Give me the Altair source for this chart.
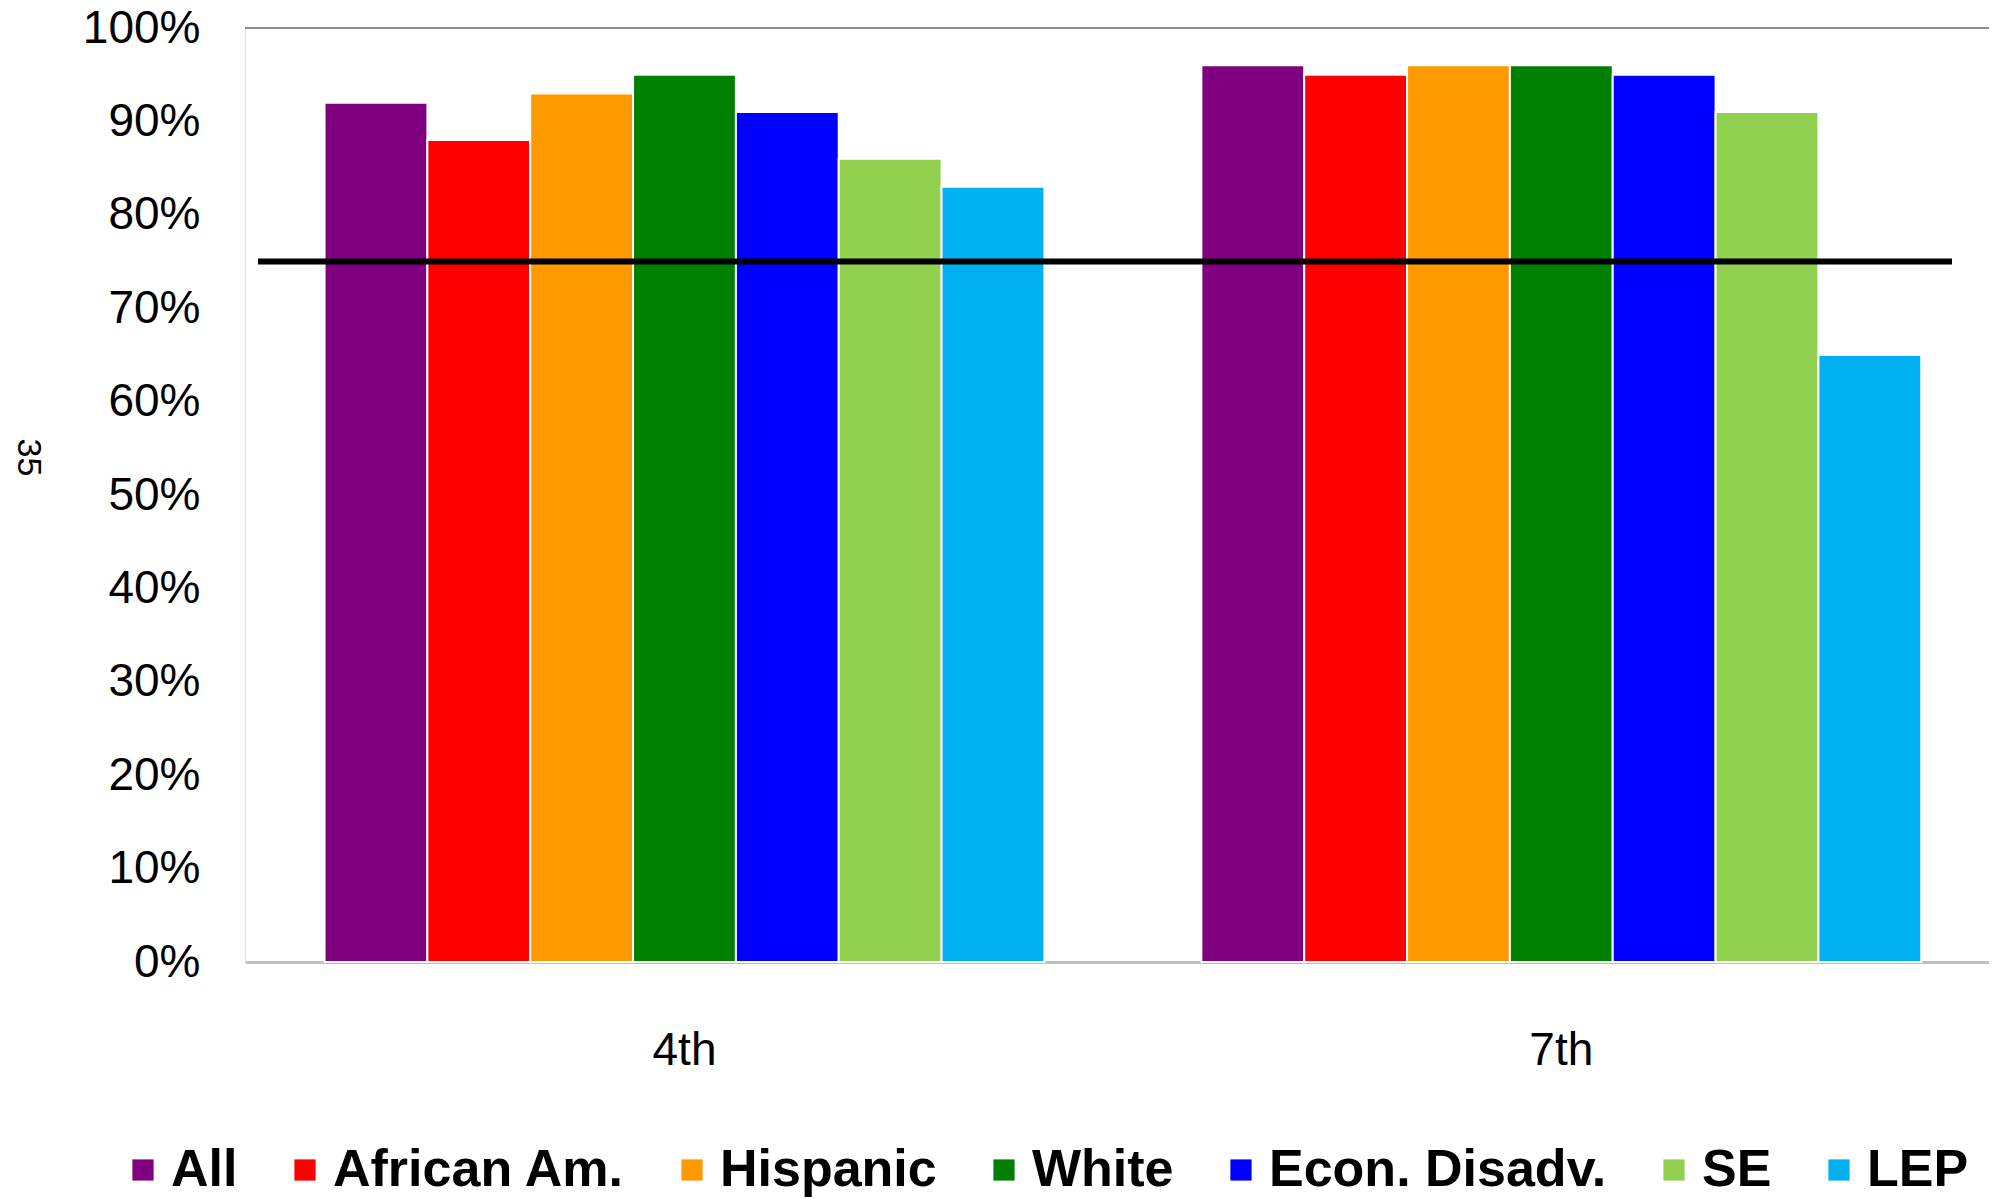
import altair as alt
import pandas as pd

grades = ["4th", "7th"]
groups = ["All", "African Am.", "Hispanic", "White", "Econ. Disadv.", "SE", "LEP"]
pct_4th = [92, 88, 93, 95, 91, 86, 83]
pct_7th = [96, 95, 96, 96, 95, 91, 65]
target_pct = 75
colors = ["#800080", "#FF0000", "#FF9900", "#008000", "#0000FF", "#92D050", "#00B0F0"]
y_ticks = [0, 0.1, 0.2, 0.3, 0.4, 0.5, 0.6, 0.7, 0.8, 0.9, 1.0]

rows = []
for g, vals in zip(grades, [pct_4th, pct_7th]):
    for grp, v in zip(groups, vals):
        rows.append({"grade": g, "group": grp, "value": v / 100})
df = pd.DataFrame(rows)

W, H = 1744, 934
SANS = "Liberation Sans, Arial, sans-serif"

bars = alt.Chart(df).mark_bar(stroke="white", strokeWidth=2).encode(
    x=alt.X(
        "grade:N", sort=grades,
        scale=alt.Scale(paddingInner=0.179, paddingOuter=0.084, align=0.54),
        axis=alt.Axis(title=None, labelAngle=0, ticks=False, domain=True,
                      domainColor="#bfbfbf", domainWidth=3,
                      labelFont=SANS, labelFontSize=46, labelColor="black",
                      labelPadding=66),
    ),
    xOffset=alt.XOffset("group:N", sort=groups,
                        scale=alt.Scale(paddingInner=0, paddingOuter=0)),
    y=alt.Y(
        "value:Q",
        scale=alt.Scale(domain=[0, 1], nice=False),
        axis=alt.Axis(format=".0%", values=y_ticks, grid=False, ticks=False,
                      domainColor="#e6e6e6", domainWidth=1.5,
                      labelFont=SANS, labelFontSize=46, labelColor="black",
                      labelPadding=45,
                      title="35", titleAngle=90, titleFont=SANS, titleFontSize=34,
                      titleFontWeight="normal", titleColor="black",
                      titleX=-218, titleY=429, titleAlign="center",
                      titleBaseline="middle"),
    ),
    color=alt.Color(
        "group:N", sort=groups,
        scale=alt.Scale(domain=groups, range=colors),
        legend=alt.Legend(title=None, orient="none", legendX=-128, legendY=1116,
                          direction="horizontal", columns=7,
                          symbolType="square", symbolSize=450,
                          symbolStrokeWidth=0,
                          labelFont=SANS, labelFontWeight="bold",
                          labelFontSize=52, labelColor="black",
                          labelOffset=2, columnPadding=41, padding=0,
                          labelLimit=1000),
    ),
)

top_line = alt.Chart(pd.DataFrame({"v": [1.0]})).mark_rule(
    color="#8c8c8c", strokeWidth=2
).encode(y="v:Q")

target = alt.Chart(pd.DataFrame({"v": [target_pct / 100]})).mark_rule(
    color="black", strokeWidth=6
).encode(y="v:Q", x=alt.value(13), x2=alt.value(W - 37))

chart = alt.layer(bars, top_line, target).properties(
    width=W, height=H,
    autosize=alt.AutoSizeParams(type="none"),
    padding={"left": 237, "top": 20, "right": 0, "bottom": 237},
).configure_view(stroke=None).configure(background="white")

chart.save("out.html", embed_options={"renderer": "svg", "actions": False})
